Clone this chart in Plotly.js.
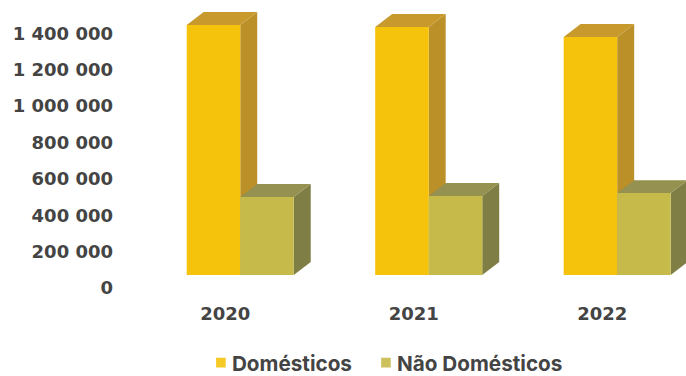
<!DOCTYPE html>
<html>
<head>
<meta charset="utf-8">
<script src="https://cdn.plot.ly/plotly-3.0.1.min.js"></script>
<style>html,body{margin:0;padding:0;background:#fff}</style>
</head>
<body>
<div id="chart" style="width:686px;height:376px"></div>
<script>
const years = ['2020', '2021', '2022'];
const domesticos = [1374000, 1363000, 1308000];
const naoDomesticos = [429000, 434000, 450000];
const tickValues = [0, 200000, 400000, 600000, 800000, 1000000, 1200000, 1400000];
const tickLabels = ['0', '200 000', '400 000', '600 000', '800 000', '1 000 000', '1 200 000', '1 400 000'];
const depthX = 0.09, depthY = 71000, barW = 0.284;

function box(i, left, v, side, top) {
  const x0 = i + left, x1 = x0 + barW, dx = depthX, dy = depthY;
  const poly = (pts, c) => ({type:'path', xref:'x', yref:'y', layer:'below', fillcolor:c, line:{width:0},
    path:'M' + pts.map(p => p[0] + ',' + p[1]).join('L') + 'Z'});
  return [
    poly([[x1,0],[x1+dx,dy],[x1+dx,v+dy],[x1,v]], side),
    poly([[x0,v],[x0+dx,v+dy],[x1+dx,v+dy],[x1,v]], top)
  ];
}
let shapes = [];
years.forEach((y, i) => {
  shapes = shapes.concat(box(i, -barW, domesticos[i], '#BC9029', '#C89A2E'));
  shapes = shapes.concat(box(i, 0, naoDomesticos[i], '#7F7F45', '#959150'));
});
const tickFont = {family:'DejaVu Sans', size:18, color:'#444', weight:'bold'};

Plotly.newPlot('chart', [
  {type:'bar', name:'Domésticos', x:years, y:domesticos, marker:{color:'#F6C30C', line:{width:0}}},
  {type:'bar', name:'Não Domésticos', x:years, y:naoDomesticos, marker:{color:'#C6BA4B', line:{width:0}}}
], {
  width:686, height:376,
  margin:{l:146, r:0, t:0, b:101},
  paper_bgcolor:'#fff', plot_bgcolor:'#fff',
  barmode:'group', bargap:0.432, bargroupgap:0,
  font:{family:'Inter', color:'#444', size:14},
  shapes:shapes,
  xaxis:{type:'category', range:[-0.5, 2.365], showgrid:false, showline:false, zeroline:false, ticks:'',
    ticklabelshift:-15, ticklabelstandoff:26, tickfont:tickFont},
  yaxis:{range:[0, 1511000], tickmode:'array', tickvals:tickValues, ticktext:tickLabels,
    showgrid:false, showline:false, zeroline:false, ticks:'',
    ticklabelshift:13, ticklabelstandoff:32, tickfont:tickFont},
  legend:{orientation:'h', x:0.085, xanchor:'left', yref:'container', y:0.03, yanchor:'middle',
    font:{family:'Inter', size:20.7, color:'#444', weight:'bold'}, itemwidth:30, traceorder:'normal'}
}, {displayModeBar:false, staticPlot:true}).then(() => {
  // tighten the legend keys: smaller squares, closer to their labels
  document.querySelectorAll('#chart .legendsymbols').forEach(g => {
    g.setAttribute('transform', 'translate(9,0)');
    g.querySelectorAll('path').forEach(p => {
      p.setAttribute('transform', (p.getAttribute('transform') || '') + ' scale(0.8)');
      p.style.opacity = 0.9;
    });
  });
  const lg = document.querySelector('#chart .legend');
  if (lg) {
    const t = lg.getAttribute('transform');
    const m = /translate\(([-\d.]+)[ ,]+([-\d.]+)\)/.exec(t);
    if (m) lg.setAttribute('transform', 'translate(' + m[1] + ',' + (parseFloat(m[2]) - 2) + ')');
  }
});
</script>
</body>
</html>
